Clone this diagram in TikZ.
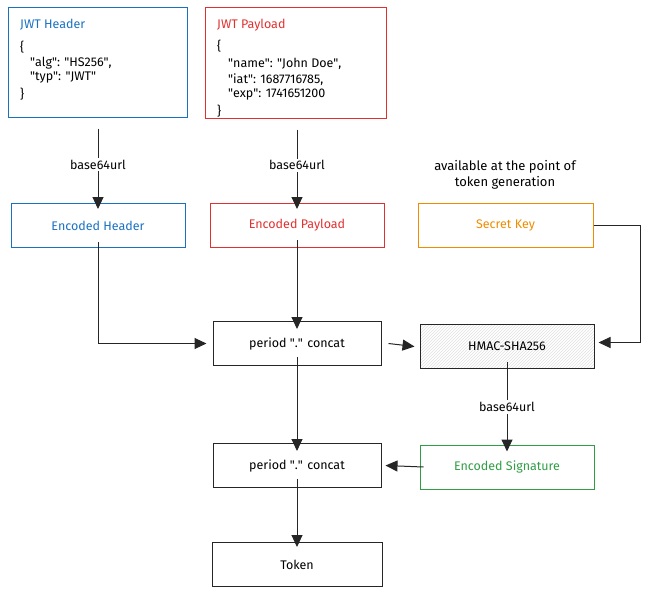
\documentclass[tikz,border=0pt]{standalone}
\usepackage{fontspec}
\setmainfont{Fira Sans}
\usetikzlibrary{arrows.meta,patterns,positioning}
\definecolor{hdrblue}{HTML}{1971C2}
\definecolor{pldred}{HTML}{E03131}
\definecolor{keyorange}{HTML}{F08C00}
\definecolor{siggreen}{HTML}{2F9E44}
\newcommand{\q}{\textquotedbl}
\tikzset{
    box/.style={draw=black!85, line width=1pt, minimum width=170pt, minimum height=44pt,
        inner sep=0pt, font=\fontsize{12.5}{14}\selectfont},
    hdrbox/.style={box, draw=hdrblue, text=hdrblue},
    pldbox/.style={box, draw=pldred, text=pldred},
    keybox/.style={box, draw=keyorange, text=keyorange},
    sigbox/.style={box, draw=siggreen, text=siggreen},
    hashbox/.style={box, pattern=north east lines, pattern color=black!12},
    codeline/.style={anchor=west, inner sep=0pt, font=\fontsize{12.5}{14}\selectfont},
    flow/.style={draw=black!85, line width=1pt, -{Triangle[length=12pt,width=11pt]}},
    steplabel/.style={fill=white, inner sep=2pt, font=\fontsize{12.5}{14}\selectfont},
}
\begin{document}
\begin{tikzpicture}[x=1pt, y=-1pt]
	\useasboundingbox (0,0) rectangle (650,592);
	% json sources
	\node[hdrbox, minimum width=179pt, minimum height=110pt] (hdr) at (97.5,62) {};
	\node[codeline, text=hdrblue] (hdrtitle) at (20,25) {JWT Header};
	\node[codeline] (hdra) at (20,47) {\{};
	\node[codeline] (hdrb) at (30,63) {\q alg\q: \q HS256\q,};
	\node[codeline] (hdrc) at (30,78) {\q typ\q: \q JWT\q};
	\node[codeline] (hdrd) at (20,94) {\}};
	\node[pldbox, minimum width=181pt, minimum height=111pt] (pld) at (295.5,62.5) {};
	\node[codeline, text=pldred] (pldtitle) at (217,25) {JWT Payload};
	\node[codeline] (plda) at (217,46) {\{};
	\node[codeline] (pldb) at (228,64) {\q name\q: \q John Doe\q,};
	\node[codeline] (pldc) at (228,80) {\q iat\q: 1687716785,};
	\node[codeline] (pldd) at (228,95) {\q exp\q: 1741651200};
	\node[codeline] (plde) at (217,111) {\}};
	% encoded parts
	\node[hdrbox, minimum width=174pt] (enchdr) at (98,225.5) {Encoded Header};
	\node[pldbox, minimum width=174pt] (encpld) at (297,225.5) {Encoded Payload};
	\node[keybox, minimum width=175pt] (secret) at (505.5,225) {Secret Key};
	\node[align=center, font=\fontsize{13}{16}\selectfont] (keynote) at (505,175)
		{available at the point of\\token generation};
	% signing
	\node[box, minimum width=168pt] (concatA) at (297,343.5) {period \q.\q{} concat};
	\node[hashbox, minimum width=174pt] (hmac) at (507,346.5) {HMAC-SHA256};
	\node[sigbox, minimum width=174pt] (encsig) at (507,467) {Encoded Signature};
	\node[box, minimum width=168pt] (concatB) at (297,465.5) {period \q.\q{} concat};
	\node[box, minimum width=170pt] (token) at (297,564.5) {Token};
	% connectors
	\draw[flow] ([yshift=-11pt]hdr.south -| enchdr.north) -- ([yshift=-6pt]enchdr.north)
		node[steplabel, pos=0.45] {base64url};
	\draw[flow] ([yshift=-11pt]pld.south -| encpld.north) -- ([yshift=-6pt]encpld.north)
		node[steplabel, pos=0.45] {base64url};
	\draw[flow] ([yshift=6pt]enchdr.south) |- ([xshift=-6pt]concatA.west);
	\draw[flow] ([yshift=8pt]encpld.south) -- ([yshift=-8pt]concatA.north);
	\draw[flow] ([xshift=7pt]concatA.east) -- ([xshift=-5pt]hmac.west);
	\draw[flow] (secret.east) -- ++(47,0) |- ([xshift=4pt,yshift=4pt]hmac.east);
	\draw[flow] ([yshift=7pt]hmac.south) -- ([yshift=-7pt]encsig.north)
		node[steplabel, pos=0.5] {base64url};
	\draw[flow] ([xshift=4pt]encsig.west) -- ([xshift=4pt]concatB.east);
	\draw[flow] ([yshift=9pt]concatA.south) -- ([yshift=-8pt]concatB.north);
	\draw[flow] ([yshift=9pt]concatB.south) -- ([yshift=-5pt]token.north);
\end{tikzpicture}
\end{document}
